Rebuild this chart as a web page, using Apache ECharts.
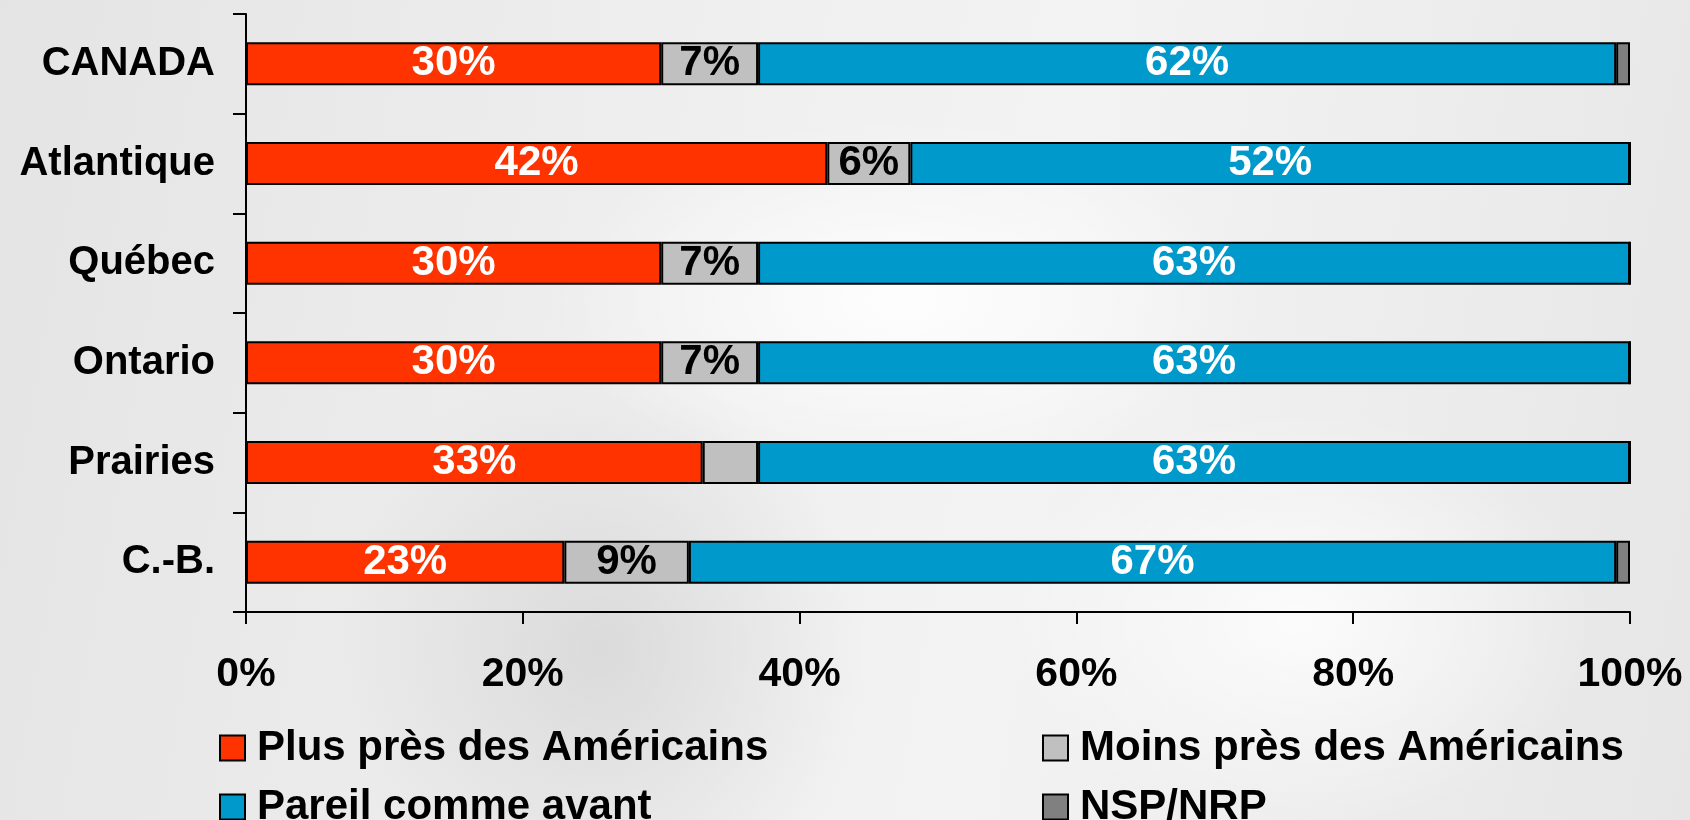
<!DOCTYPE html>
<html>
<head>
<meta charset="utf-8">
<script src="https://cdn.jsdelivr.net/npm/echarts@6/dist/echarts.min.js"></script>
<style>
html,body{margin:0;padding:0;}
body{width:1690px;height:820px;overflow:hidden;
background:
 radial-gradient(ellipse 500px 260px at 900px 300px, rgba(255,255,255,0.9), rgba(255,255,255,0) 70%),
 radial-gradient(ellipse 420px 300px at 1300px 620px, rgba(255,255,255,0.8), rgba(255,255,255,0) 70%),
 radial-gradient(ellipse 380px 420px at 600px 650px, rgba(205,205,205,0.6), rgba(205,205,205,0) 70%),
 linear-gradient(100deg,#e4e4e4 0%,#efefef 40%,#f3f3f3 60%,#e6e6e6 100%);}
#c{width:1690px;height:820px;}
</style>
</head>
<body>
<div id="c"></div>
<script>
const categories = ['CANADA','Atlantique','Québec','Ontario','Prairies','C.-B.'];
const plusPres = [30,42,30,30,33,23];
const moinsPres = [7,6,7,7,4,9];
const pareil = [62,52,63,63,63,67];
const nsp = [1,0,0,0,0,1];
const xTicks = [0,20,40,60,80,100];
const seriesNames = ['Plus près des Américains','Moins près des Américains','Pareil comme avant','NSP/NRP'];

const FONT = '"Liberation Sans", Arial, sans-serif';
const chart = echarts.init(document.getElementById('c'), null, {renderer:'canvas'});

function mkSeries(name, data, color, labelColor){
  return {
    name, type:'bar', stack:'t', data,
    barWidth: 43,
    itemStyle:{color, borderColor:'#000', borderWidth:2},
    label:{
      show:true, position:'inside', color:labelColor,
      fontFamily:FONT, fontWeight:'bold', fontSize:42,
      formatter: p => p.value >= 5 ? p.value + '%' : ''
    },
    emphasis:{disabled:true}
  };
}
function mkLegend(name, left, top){
  return {left, top, orient:'horizontal', icon:'rect', itemWidth:25, itemHeight:25,
    data:[name], selectedMode:false,
    textStyle:{color:'#000', fontFamily:FONT, fontWeight:'bold', fontSize:42, lineHeight:46, padding:[0,0,0,7]}};
}

chart.setOption({
  animation:false,
  backgroundColor:'transparent',
  grid:{left:246, right:60, top:14, bottom:208, containLabel:false},
  xAxis:{
    type:'value', min:0, max:100, interval:20,
    axisLine:{show:true, lineStyle:{color:'#000', width:2}},
    axisTick:{show:true, length:12, lineStyle:{color:'#000', width:2}},
    splitLine:{show:false},
    axisLabel:{formatter: v => xTicks.includes(v) ? v + '%' : '', color:'#000', fontFamily:FONT, fontWeight:'bold', fontSize:41, margin:42}
  },
  yAxis:{
    type:'category', data:categories, inverse:true,
    axisLine:{show:true, lineStyle:{color:'#000', width:2}},
    axisTick:{show:true, length:13, lineStyle:{color:'#000', width:2}},
    axisLabel:{color:'#000', fontFamily:FONT, fontWeight:'bold', fontSize:40, margin:31}
  },
  legend:[
    mkLegend(seriesNames[0], 214, 720),
    mkLegend(seriesNames[2], 214, 779),
    mkLegend(seriesNames[1], 1037, 720),
    mkLegend(seriesNames[3], 1037, 779)
  ],
  series:[
    mkSeries(seriesNames[0], plusPres, '#FF3300', '#fff'),
    mkSeries(seriesNames[1], moinsPres, '#C0C0C0', '#000'),
    mkSeries(seriesNames[2], pareil, '#0099CC', '#fff'),
    mkSeries(seriesNames[3], nsp, '#808080', '#000')
  ]
});
</script>
</body>
</html>
